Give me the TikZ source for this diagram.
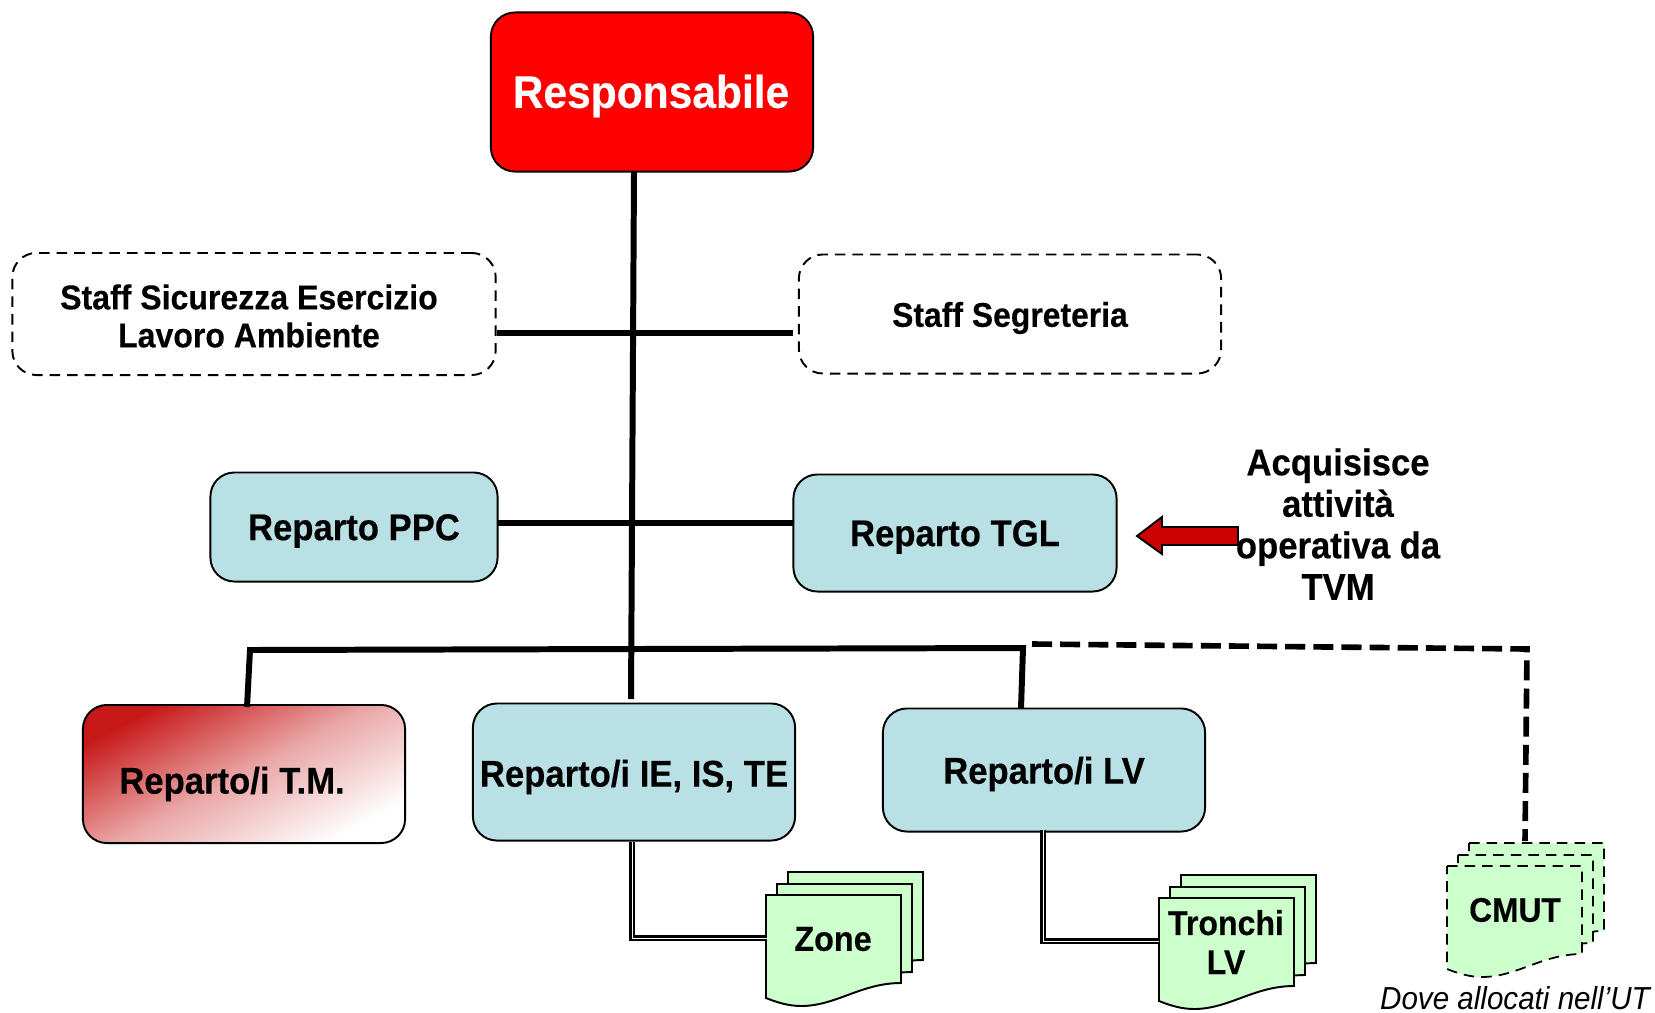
\documentclass[tikz,border=0pt]{standalone}
\usepackage{fontspec}
\setmainfont{Liberation Sans}[BoldFeatures = {FakeStretch = 0.93, FakeBold = 0.3}, ItalicFeatures = {FakeStretch = 0.93}]
\definecolor{repteal}{RGB}{185,224,228}
\definecolor{sheetgreen}{RGB}{204,255,204}
\definecolor{tmred}{RGB}{200,25,25}
\definecolor{arrowred}{RGB}{204,0,0}
\tikzset{
	box/.style = {draw, rounded corners = 0.24cm, line width = 0.55pt, inner sep = 0pt, align = center},
	repbox/.style = {box, fill = repteal},
	staffbox/.style = {box, dashed, dash pattern = on 3pt off 2pt},
	label/.style = {font = \fontsize{10.6}{11.8}\selectfont\bfseries, align = center, inner sep = 0pt},
	trunk/.style = {line width = 1.7pt},
	subline/.style = {double, line width = 0.6pt, double distance = 0.25pt},
	pics/sheet/.style = {code = {
		\draw[pic actions] (0,0) -- (135,0) -- (135,88) .. controls (95,88) and (70,111) .. (35,111) .. controls (22,111) and (10,107) .. (0,103) -- cycle;
	}}
}
\newcommand{\sheetstack}[3]{
	\foreach \dx/\dy in {22/-23, 11/-11, 0/0} {
		\pic[#1] at ({#2 + \dx}, {#3 + \dy}) {sheet};
	}
}
\begin{document}
\begin{tikzpicture}[x = 0.01cm, y = -0.01cm]

\useasboundingbox (0,0) rectangle (1655, 1012);

\node[box, fill = red, minimum width = 3.22cm, minimum height = 1.59cm] (resp) at (652, 92) {};
\node[label, text = white, font = \fontsize{13}{14}\selectfont\bfseries] (resptext) at (651, 96) {Responsabile};

\node[staffbox, minimum width = 4.83cm, minimum height = 1.22cm] (sic) at (254, 314) {};
\node[label, font = \fontsize{9.8}{10.8}\selectfont\bfseries] (sictext) at (249, 316) {Staff Sicurezza Esercizio\\Lavoro Ambiente};
\node[staffbox, minimum width = 4.22cm, minimum height = 1.19cm] (seg) at (1010, 314) {};
\node[label, font = \fontsize{9.75}{11}\selectfont\bfseries] (segtext) at (1010, 318) {Staff Segreteria};

\node[repbox, minimum width = 2.87cm, minimum height = 1.09cm] (ppc) at (354, 527) {};
\node[label] (ppctext) at (354, 531) {Reparto PPC};
\node[repbox, minimum width = 3.23cm, minimum height = 1.17cm] (tgl) at (955, 533) {};
\node[label] (tgltext) at (955, 537) {Reparto TGL};

\node[box, minimum width = 3.22cm, minimum height = 1.38cm, shading = axis, left color = tmred, right color = white, middle color = tmred!38!white, shading angle = 28] (tm) at (244, 774) {};
\node[label] (tmtext) at (232, 784) {Reparto/i T.M.};
\node[repbox, minimum width = 3.22cm, minimum height = 1.37cm] (ie) at (634, 772) {};
\node[label] (ietext) at (634, 777) {Reparto/i IE, IS, TE};
\node[repbox, minimum width = 3.22cm, minimum height = 1.23cm] (lv) at (1044, 770) {};
\node[label] (lvtext) at (1044, 774) {Reparto/i LV};

% lines
\coordinate (trunkend) at (631, 699);
\coordinate (sicend) at (497, 333);
\coordinate (segend) at (793, 333);
\coordinate (ppcend) at (497, 523);
\coordinate (tglend) at (794, 523);
\coordinate (barleft) at (250, 650);
\coordinate (barright) at (1023, 648);
\coordinate (tmtop) at (247, 707);
\coordinate (lvtop) at (1021, 708);
\coordinate (dashstart) at (1032, 644);
\coordinate (dashcorner) at (1527, 649);
\coordinate (dashend) at (1525, 841);

\draw[trunk] (634, 171) -- (trunkend);
\draw[trunk] (sicend) -- (segend);
\draw[trunk] (ppcend) -- (tglend);
\draw[trunk] (tmtop) -- (barleft) -- (barright) -- (lvtop);
\draw[line width = 1.6pt, dash pattern = on 5.7pt off 2.3pt] (dashstart) -- (dashcorner) -- (dashend);

% sheets
\sheetstack{draw, fill = sheetgreen, line width = 0.55pt}{766}{895}
\sheetstack{draw, fill = sheetgreen, line width = 0.55pt}{1159}{898}
\sheetstack{draw, fill = sheetgreen, line width = 0.5pt, dash pattern = on 3pt off 2pt}{1447}{866}

\node[label, font = \fontsize{9.9}{11}\selectfont\bfseries] (zone) at (833, 939) {Zone};
\node[label, font = \fontsize{9.8}{11.1}\selectfont\bfseries] (tronchi) at (1226, 942) {Tronchi\\LV};
\node[label, font = \fontsize{9.7}{11}\selectfont\bfseries] (cmut) at (1515, 910) {CMUT};
\node[font = \fontsize{9.05}{10}\selectfont\itshape, inner sep = 0pt] (dove) at (1515, 998) {Dove allocati nell’UT};

\coordinate (zonein) at (767, 938);
\coordinate (tronchiin) at (1159, 941);
\draw[subline] (ie.south) ++(-2, 0) |- (zonein);
\draw[subline] (lv.south) ++(-1, -3) |- (tronchiin);

% arrow
\node[label] (acq) at (1338, 524) {Acquisisce\\attività\\operativa da\\TVM};
\draw[fill = arrowred, line width = 0.55pt] (1238, 527) -- (1162, 527) -- (1162, 517) -- (1137, 536) -- (1162, 554) -- (1162, 545) -- (1238, 545) -- cycle;

\end{tikzpicture}
\end{document}
